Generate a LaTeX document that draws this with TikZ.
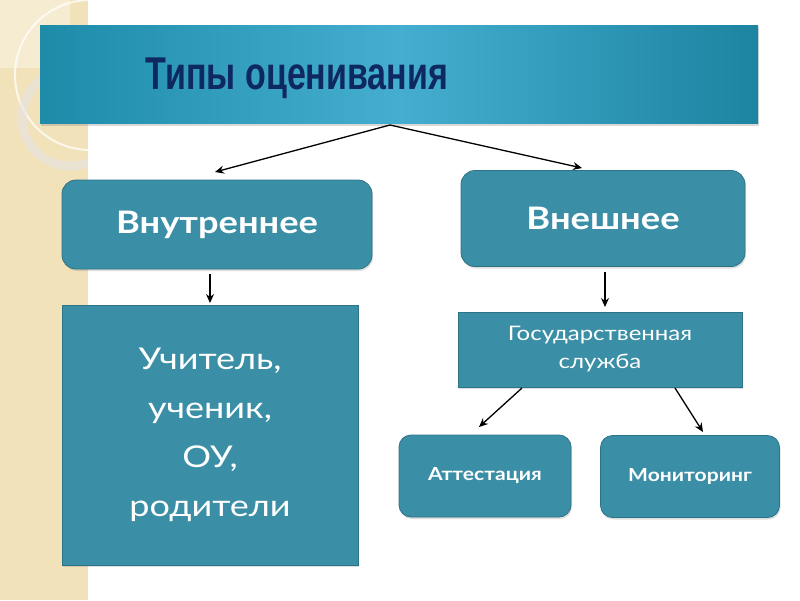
\documentclass[tikz,border=0pt]{standalone}
\usepackage{fontspec}
\setmainfont{Lato}
\newfontfamily\titlefont[FakeStretch=0.74]{Liberation Sans Bold}
\newfontfamily\regfont[FakeStretch=1.2]{Lato}
\newfontfamily\boldfont[FakeStretch=1.17]{Lato Bold}
\usetikzlibrary{arrows.meta,shadows,calc}
\definecolor{strip}{HTML}{F2E2B9}
\definecolor{stripsq}{HTML}{F6ECD2}
\definecolor{boxfill}{HTML}{3A8FA6}
\definecolor{boxline}{HTML}{2C7387}
\definecolor{titleedge}{HTML}{1E8BA9}
\definecolor{titlemid}{HTML}{45AED0}
\definecolor{titletxt}{HTML}{0E2860}
\tikzset{
  tealbox/.style={draw=boxline, line width=0.8pt, fill=boxfill, text=white,
    inner sep=0pt, align=center,
    drop shadow={shadow xshift=1pt, shadow yshift=-2pt, opacity=0.25}},
  roundbox/.style={tealbox, rounded corners=14pt},
  conn/.style={line width=1.3pt, -{Stealth[length=9pt,width=8pt,inset=3pt]}},
}
\begin{document}
\begin{tikzpicture}[x=1pt,y=-1pt]
\useasboundingbox (0,0) rectangle (800,600);
\fill[white] (0,0) rectangle (800,600);
% decorative left strip
\fill[strip] (0,0) rectangle (88,600);
\begin{scope}
  \clip (0,0) rectangle (88,600);
  \fill[stripsq] (0,0) rectangle (70,68);
  \draw[white, opacity=0.75, line width=2pt] (90,75) circle[radius=75];
  \draw[black!10, opacity=0.6, line width=9pt] (70,118) circle[radius=48];
\end{scope}
% title
\node (title) [draw=none, inner sep=0pt, minimum width=718, minimum height=98,
  left color=titleedge, right color=titleedge!95!black, middle color=titlemid,
  drop shadow={shadow xshift=1pt, shadow yshift=-3pt, opacity=0.3}] at (399,74) {};
\node (titletext) [text=titletxt, inner sep=0pt, font=\titlefont\fontsize{46}{50}\selectfont]
  at (297,78) {Типы оценивания};
% level 1
\node (inner) [roundbox, minimum width=310, minimum height=89,
  font=\boldfont\fontsize{31}{36}\selectfont] at (217,224.5) {Внутреннее};
\node (outer) [roundbox, minimum width=284, minimum height=96,
  font=\boldfont\fontsize{31}{36}\selectfont] at (603,218.5) {Внешнее};
% level 2
\node (big) [tealbox, minimum width=296, minimum height=260,
  font=\regfont\fontsize{30}{49}\selectfont] at (210,435)
  {Учитель,\\ ученик,\\ ОУ,\\ родители};
\node (gos) [tealbox, minimum width=284, minimum height=75,
  font=\regfont\fontsize{20}{28}\selectfont] at (600,349.5)
  {Государственная\\ служба};
% level 3
\node (att) [roundbox, rounded corners=12pt, minimum width=172, minimum height=82,
  font=\boldfont\fontsize{18}{22}\selectfont] at (485,476) {Аттестация};
\node (mon) [roundbox, rounded corners=12pt, minimum width=179, minimum height=82,
  font=\boldfont\fontsize{18}{22}\selectfont] at (690,476.5) {Мониторинг};
% connector end points
\coordinate (t0) at (390,125);
\coordinate (a1) at (215,172);
\coordinate (a2) at (582,168);
\coordinate (b0) at (210,274);
\coordinate (b1) at (210,303);
\coordinate (c0) at (605,272);
\coordinate (c1) at (605,307);
\coordinate (d0) at (522,388);
\coordinate (d1) at (479,427);
\coordinate (e0) at (675,388);
\coordinate (e1) at (703,432);
\draw[conn] (t0) -- (a1);
\draw[conn] (t0) -- (a2);
\draw[conn] (b0) -- (b1);
\draw[conn] (c0) -- (c1);
\draw[conn] (d0) -- (d1);
\draw[conn] (e0) -- (e1);
\end{tikzpicture}
\end{document}
